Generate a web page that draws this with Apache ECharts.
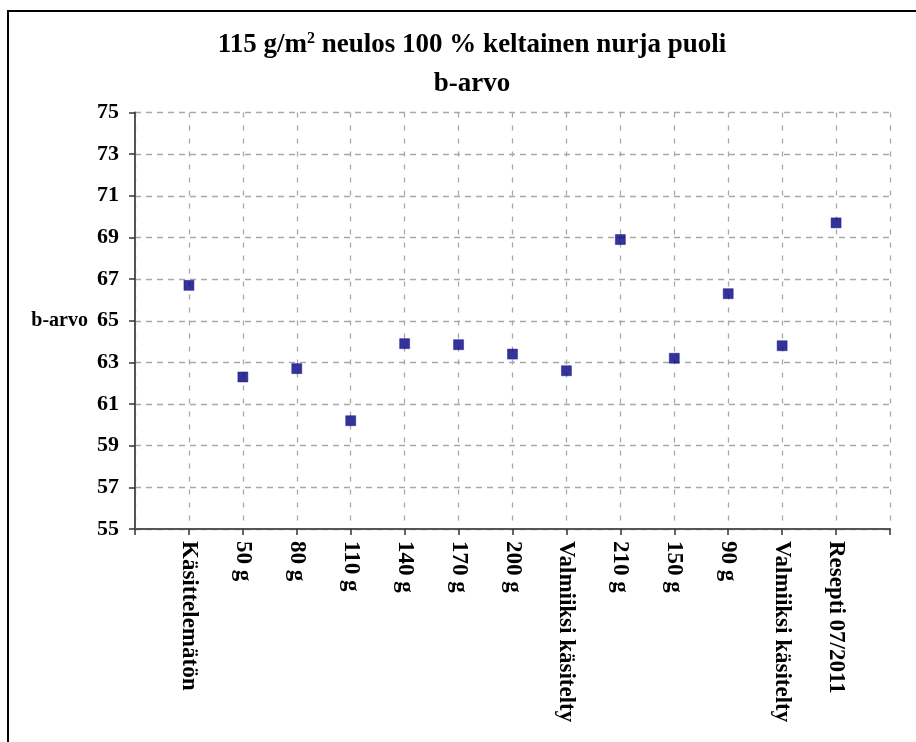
<!DOCTYPE html>
<html>
<head>
<meta charset="utf-8">
<script src="https://cdn.jsdelivr.net/npm/echarts@6/dist/echarts.min.js"></script>
<style>
  html, body { margin: 0; padding: 0; background: #fff; }
  #chart { width: 916px; height: 742px; }
</style>
</head>
<body>
<div id="chart"></div>
<script>
// Sample names along the horizontal axis
const categories = [
  'Käsittelemätön', '50 g', '80 g', '110 g', '140 g', '170 g', '200 g',
  'Valmiiksi käsitelty', '210 g', '150 g', '90 g', 'Valmiiksi käsitelty',
  'Resepti 07/2011'
];
// Measured b-value for each sample
const bValues = [66.7, 62.3, 62.7, 60.2, 63.9, 63.85, 63.4, 62.6, 68.9, 63.2, 66.3, 63.8, 69.7];
// Vertical scale
const yMin = 55;
const yMax = 75;
const yStep = 2;

const serif = "'Liberation Serif', 'Times New Roman', 'DejaVu Serif', serif";

const chart = echarts.init(document.getElementById('chart'), null, { renderer: 'canvas' });

chart.setOption({
  backgroundColor: '#ffffff',
  animation: false,
  title: {
    left: 467,
    top: 21,
    textAlign: 'center',
    text: '{a|115 g/m}{s|2}{a| neulos 100 % keltainen nurja puoli}\n{a|b-arvo}',
    textStyle: {
      rich: {
        a: { fontFamily: serif, fontWeight: 'bold', fontSize: 27, color: '#000', lineHeight: 39 },
        s: { fontFamily: serif, fontWeight: 'bold', fontSize: 16, color: '#000', lineHeight: 39, verticalAlign: 'top', padding: [5, 0, 0, 0] }
      }
    }
  },
  graphic: [{
    type: 'rect',
    shape: { x: 8, y: 11, width: 1000, height: 1000 },
    style: { fill: 'none', stroke: '#000', lineWidth: 2 },
    silent: true,
    z: 100
  }],
  grid: { left: 135, right: 26, top: 112.5, bottom: 213, containLabel: false },
  xAxis: {
    type: 'value',
    min: 0,
    max: categories.length + 1,
    interval: 1,
    axisLine: { show: true, lineStyle: { color: '#555', width: 2 } },
    axisTick: { show: true, length: 6, lineStyle: { color: '#333', width: 1.5 } },
    axisLabel: {
      rotate: -90,
      margin: 12,
      fontFamily: serif,
      fontWeight: 'bold',
      fontSize: 23,
      color: '#000',
      formatter: function (v) { return categories[v - 1] || ''; }
    },
    splitLine: { show: true, lineStyle: { color: '#a8a8a8', type: [5, 8], width: 1.3 } }
  },
  yAxis: {
    type: 'value',
    min: yMin,
    max: yMax,
    interval: yStep,
    name: 'b-arvo',
    nameLocation: 'middle',
    nameRotate: 0,
    nameGap: 47,
    nameTextStyle: { fontFamily: serif, fontWeight: 'bold', fontSize: 20, color: '#000', align: 'right', verticalAlign: 'middle', padding: [0, 0, -2, 0] },
    axisLine: { show: true, lineStyle: { color: '#555', width: 2 } },
    axisTick: { show: true, length: 6, lineStyle: { color: '#333', width: 1.5 } },
    axisLabel: {
      margin: 16,
      fontFamily: serif,
      fontWeight: 'bold',
      fontSize: 22,
      color: '#000'
    },
    splitLine: { show: true, lineStyle: { color: '#a8a8a8', type: [6, 5], width: 1.3 } }
  },
  series: [{
    type: 'scatter',
    symbol: 'rect',
    symbolSize: 10,
    itemStyle: { color: '#000080', borderColor: '#1a1a8a', borderWidth: 0.6 },
    data: bValues.map(function (v, i) { return [i + 1, v]; })
  }]
});
</script>
</body>
</html>
